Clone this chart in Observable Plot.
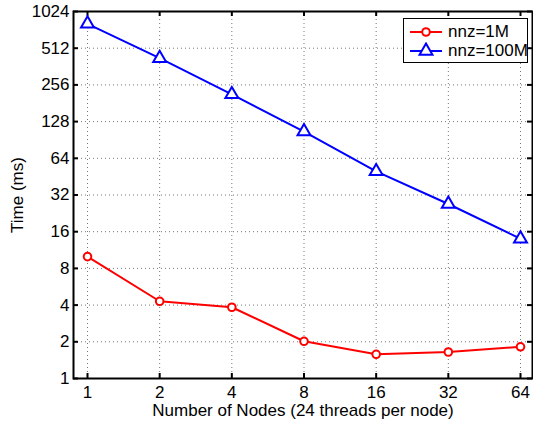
<!DOCTYPE html>
<html><head><meta charset="utf-8">
<script src="https://cdn.jsdelivr.net/npm/d3@7"></script>
<script src="https://cdn.jsdelivr.net/npm/@observablehq/plot@0.6"></script>
<style>
body{margin:0;background:#fff;}
#wrap{position:relative;width:533px;height:421px;font-family:"Liberation Sans",Arial,sans-serif;}
#wrap svg text{font-size:17px;}
#legend{position:absolute;left:403px;top:18px;width:123px;height:43px;border:1px solid #000;background:#fff;font-size:17px;white-space:nowrap;}
#legend .row{position:absolute;left:5px;height:18px;display:flex;align-items:center;}
#legend svg{margin-right:5px;}
</style></head><body>
<div id="wrap"></div>
<script>
const nodes = [1, 2, 4, 8, 16, 32, 64];
const time1M = [10, 4.3, 3.84, 2.02, 1.58, 1.65, 1.82];
const time100M = [812, 424, 214, 106, 50, 27, 14];
const seriesNames = ["nnz=1M", "nnz=100M"];
const yTicks = [1, 2, 4, 8, 16, 32, 64, 128, 256, 512, 1024];
const xLabel = "Number of Nodes (24 threads per node)";
const yLabel = "Time (ms)";

const d1 = nodes.map((n, i) => ({n, t: time1M[i]}));
const d2 = nodes.map((n, i) => ({n, t: time100M[i]}));
const W = 533, H = 421, mt = 11, mb = 43, ml = 73, mr = 1;
const fh = H - mt - mb, fw = W - ml - mr;
const tk = 5;

const chart = Plot.plot({
  width: W, height: H,
  marginTop: mt, marginBottom: mb, marginLeft: ml, marginRight: mr,
  style: {fontFamily: '"Liberation Sans", Arial, sans-serif', fontSize: "17px", color: "#000", background: "#fff"},
  x: {type: "log", base: 2, domain: [1, 64], insetLeft: 14, insetRight: 12},
  y: {type: "log", base: 2, domain: [1, 1024]},
  marks: [
    Plot.gridX(nodes, {stroke: "#777", strokeOpacity: 1, strokeDasharray: "1,3"}),
    Plot.gridY(yTicks, {stroke: "#777", strokeOpacity: 1, strokeDasharray: "1,3"}),
    Plot.tickX(nodes, {x: d => d, insetTop: fh - tk, stroke: "#000", strokeWidth: 2}),
    Plot.tickX(nodes, {x: d => d, insetBottom: fh - tk, stroke: "#000", strokeWidth: 2}),
    Plot.tickY(yTicks, {y: d => d, insetRight: fw - tk, stroke: "#000", strokeWidth: 2}),
    Plot.tickY(yTicks, {y: d => d, insetLeft: fw - tk, stroke: "#000", strokeWidth: 2}),
    Plot.axisX(nodes, {tickSize: 0, tickPadding: 7, tickFormat: d => String(d), label: xLabel, labelAnchor: "center", labelArrow: "none", labelOffset: 37, fontSize: 17}),
    Plot.axisY(yTicks, {tickSize: 0, tickPadding: 4, tickFormat: d => String(d), label: yLabel, labelAnchor: "center", labelArrow: "none", labelOffset: 63, fontSize: 17}),
    Plot.line(d1, {x: "n", y: "t", stroke: "#ff0000", strokeWidth: 2}),
    Plot.line(d2, {x: "n", y: "t", stroke: "#0000ff", strokeWidth: 2}),
    Plot.dot(d1, {x: "n", y: "t", r: 3.8, symbol: "circle", fill: "#fff", stroke: "#ff0000", strokeWidth: 2}),
    Plot.dot(d2, {x: "n", y: "t", r: 4.8, symbol: "triangle", fill: "#fff", stroke: "#0000ff", strokeWidth: 2}),
    Plot.frame({stroke: "#000", strokeWidth: 2})
  ]
});
const wrap = document.getElementById("wrap");
wrap.appendChild(chart);

const legend = document.createElement("div");
legend.id = "legend";
const colors = ["#ff0000", "#0000ff"];
const symbols = [d3.symbolCircle, d3.symbolTriangle];
const sizes = [Math.PI * 3.8 * 3.8, Math.PI * 4.8 * 4.8];
seriesNames.forEach((name, i) => {
  const row = document.createElement("div");
  row.className = "row";
  row.style.top = (4 + i * 19) + "px";
  const s = d3.create("svg").attr("width", 34).attr("height", 18);
  s.append("line").attr("x1", 1).attr("x2", 33).attr("y1", 9).attr("y2", 9).attr("stroke", colors[i]).attr("stroke-width", 2);
  s.append("path").attr("d", d3.symbol(symbols[i], sizes[i])()).attr("transform", "translate(17,9)")
    .attr("fill", "#fff").attr("stroke", colors[i]).attr("stroke-width", 2);
  row.appendChild(s.node());
  const t = document.createElement("span");
  t.textContent = name;
  row.appendChild(t);
  legend.appendChild(row);
});
wrap.appendChild(legend);
</script>
</body></html>
